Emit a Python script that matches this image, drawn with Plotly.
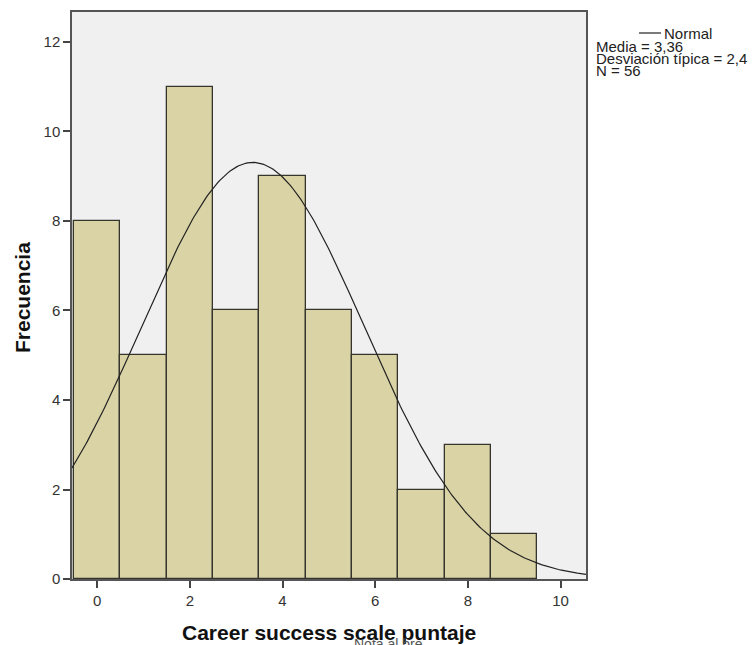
import numpy as np
import plotly.graph_objects as go

# Data
categories = [0, 1, 2, 3, 4, 5, 6, 7, 8, 9]
frequencies = [8, 5, 11, 6, 9, 6, 5, 2, 3, 1]
mean_val = 3.36
sd_val = 2.4
n_val = 56
bin_width = 1.0
x_ticks = [0, 2, 4, 6, 8, 10]
y_ticks = [0, 2, 4, 6, 8, 10, 12]
x_title = "Career success scale puntaje"
y_title = "Frecuencia"
info_lines = ["Media = 3,36", "Desviación típica = 2,4", "N = 56"]

xr = [-0.543, 10.55]
yr = [0, 12.67]

# Normal curve scaled to the histogram
xs = np.linspace(xr[0], xr[1], 300)
ys = n_val * bin_width / (sd_val * np.sqrt(2 * np.pi)) * np.exp(-0.5 * ((xs - mean_val) / sd_val) ** 2)

FONT = "Liberation Sans, Arial, sans-serif"

# plot area in screen pixels
PL, PR, PT, PB = 72.0, 586.0, 12.0, 579.0
PW, PH = PR - PL, PB - PT


def px(x):
    return (x - PL) / PW


def py(y):
    return (PB - y) / PH


fig = go.Figure()
fig.add_trace(go.Bar(
    x=categories, y=frequencies, width=1.0,
    marker=dict(color="#D9D3A5", line=dict(color="#35352d", width=1.3)),
    showlegend=False, hoverinfo="x+y",
))
fig.add_trace(go.Scatter(
    x=xs, y=ys, mode="lines",
    line=dict(color="#222222", width=1.2),
    showlegend=False,
))

fig.update_layout(
    width=752, height=645,
    margin=dict(l=72, r=166, t=12, b=66, autoexpand=False),
    paper_bgcolor="white",
    plot_bgcolor="#F0F0F0",
    font=dict(family=FONT, size=12, color="#222"),
    bargap=0,
    xaxis=dict(
        range=xr, tickvals=x_ticks, ticktext=[str(v) for v in x_ticks],
        ticks="outside", ticklen=7, tickwidth=1.5, tickcolor="#444",
        showgrid=False, zeroline=False, automargin=False,
        showline=True, linecolor="#555", linewidth=1.5, mirror=True,
        tickfont=dict(family=FONT, size=15, color="#333"),
    ),
    yaxis=dict(
        range=yr, tickvals=y_ticks, ticktext=[str(v) for v in y_ticks],
        ticks="outside", ticklen=7, tickwidth=1.5, tickcolor="#444",
        showgrid=False, zeroline=False, automargin=False,
        showline=True, linecolor="#555", linewidth=1.5, mirror=True,
        tickfont=dict(family=FONT, size=15, color="#333"),
    ),
)

# Axis titles
fig.add_annotation(xref="paper", yref="paper", x=px(329), y=py(632),
                   xanchor="center", yanchor="middle", showarrow=False,
                   text="<b>" + x_title + "</b>",
                   font=dict(family=FONT, size=21, color="#111"))
fig.add_annotation(xref="paper", yref="paper", x=px(22), y=py(298),
                   xanchor="center", yanchor="middle", showarrow=False,
                   textangle=-90, text="<b>" + y_title + "</b>",
                   font=dict(family=FONT, size=21, color="#111"))

# Legend-like annotations on the right
fig.add_shape(type="line", xref="paper", yref="paper",
              x0=px(639), x1=px(661), y0=py(33), y1=py(33),
              line=dict(color="#222", width=1.2))
fig.add_annotation(xref="paper", yref="paper", x=px(662), y=py(33),
                   xanchor="left", yanchor="middle", showarrow=False,
                   text="Normal", font=dict(family=FONT, size=15, color="#222"))
for i, t in enumerate(info_lines):
    fig.add_annotation(xref="paper", yref="paper", x=px(594), y=py(46 + 12 * i),
                       xanchor="left", yanchor="middle", showarrow=False,
                       text=t, font=dict(family=FONT, size=15, color="#222"))

# Overlapping secondary label (SPSS artifact)
fig.add_annotation(xref="paper", yref="paper", x=px(388), y=py(644),
                   xanchor="center", yanchor="middle", showarrow=False,
                   text="Nota al bre", font=dict(family=FONT, size=14, color="#555"))

fig.write_html("out.html",
               config={"displayModeBar": False},
               post_script="document.body.style.margin='0';document.body.style.overflow='hidden';")
